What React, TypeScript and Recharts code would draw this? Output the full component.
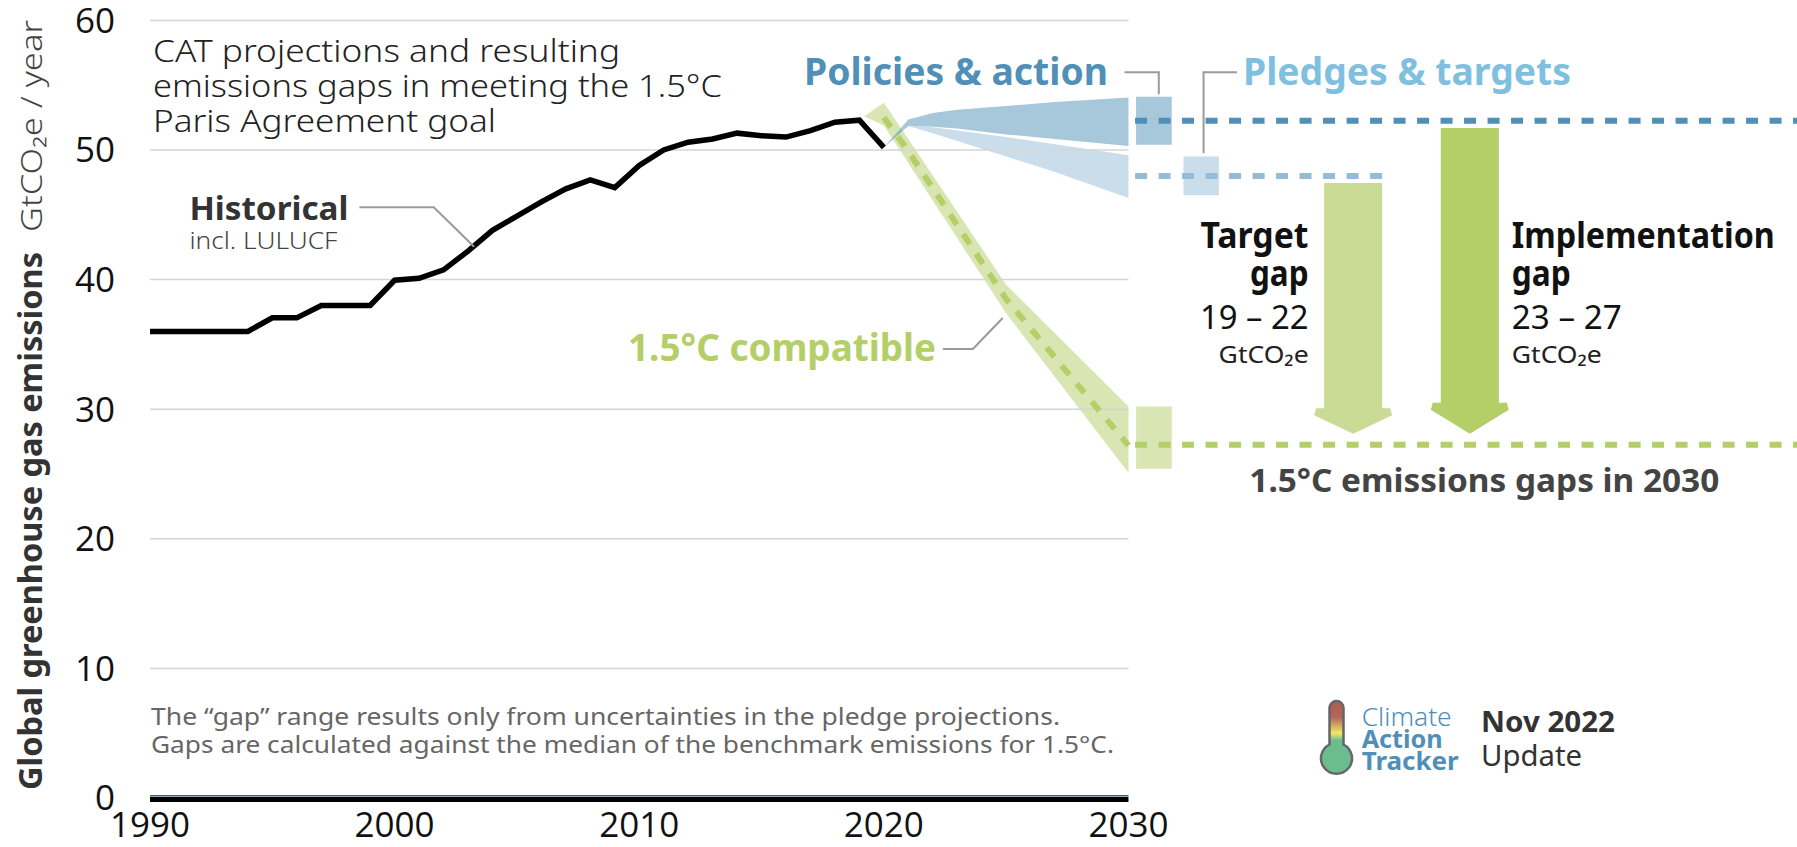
import React from "react";
import { ComposedChart, Line, Area, XAxis, YAxis, ReferenceLine, ReferenceArea } from "recharts";

const historyYears = [1990,1991,1992,1993,1994,1995,1996,1997,1998,1999,2000,2001,2002,2003,2004,2005,2006,2007,2008,2009,2010,2011,2012,2013,2014,2015,2016,2017,2018,2019,2020];
const historyValues = [36,36,36,36,36,37.05,37.05,38,38,38,39.95,40.1,40.75,42.2,43.8,44.9,46,47,47.7,47.1,48.8,50,50.6,50.85,51.3,51.1,51,51.5,52.15,52.3,50.2];

const policyYears = [2020,2021,2022,2023,2025,2027,2030];
const policyLow = [50.2,51.85,51.8,51.65,51.2,50.85,50.3];
const policyHigh = [50.2,52.35,52.85,53.1,53.4,53.7,54.05];

const pledgeYears = [2021,2022,2025,2027,2030];
const pledgeLow = [51.85,51.3,49.5,48.3,46.3];
const pledgeHigh = [51.85,51.75,51.0,50.45,49.6];

const compatYears = [2019.2,2020,2021,2025,2030];
const compatLow = [52.6,51.9,49.0,37.4,25.1];
const compatHigh = [52.6,53.65,50.85,39.6,30.2];
const medianYears = [2020,2021,2025,2030];
const medianValues = [52.5,49.9,38.5,27.2];

const yTicks = [0,10,20,30,40,50,60];
const xTicks = [1990,2000,2010,2020,2030];
const gridValues = [10,20,30,40,50,60];

const BLUE = "#4f8fb8";
const GREEN = "#b4ce68";
const LEADER = "#9a9a9a";
const UI = "'Noto Sans'";

const zip = (xs: number[], ys: number[]) => xs.map((year, i) => ({ year, value: ys[i] }));
const band = (xs: number[], lo: number[], hi: number[]) => xs.map((year, i) => ({ year, range: [lo[i], hi[i]] }));

const ArrowShape = (p: any) => {
  const { x, y, width: w, height: h } = p;
  const inset = w * 0.128;
  const neck = y + h * 0.898;
  const pts = [[x+inset,y],[x+w-inset,y],[x+w-inset,neck],[x+w-2,neck],[x+w,neck+7],[x+w/2,y+h],[x,neck+7],[x+2,neck],[x+inset,neck]];
  return <polygon points={pts.map((q) => q.join(",")).join(" ")} fill={p.fill} />;
};

const T = ({ x, y, w, size, weight = 400, fill = "#222", anchor = "start", children, rotate }: any) => (
  <text x={rotate ? 0 : x} y={rotate ? 0 : y} transform={rotate ? `translate(${x} ${y}) rotate(-90)` : undefined}
    fontFamily={UI} fontSize={size} fontWeight={weight} fill={fill} textAnchor={anchor}
    textLength={w} lengthAdjust="spacingAndGlyphs">{children}</text>
);

const Logo = () => (
  <g>
    <defs>
      <linearGradient id="thermo" x1="0" y1="703" x2="0" y2="775" gradientUnits="userSpaceOnUse">
        <stop offset="0" stopColor="#ae5f50" />
        <stop offset="0.2" stopColor="#b0685a" />
        <stop offset="0.42" stopColor="#f2e868" />
        <stop offset="0.52" stopColor="#6cbd8e" />
        <stop offset="1" stopColor="#6cbd8e" />
      </linearGradient>
    </defs>
    <path d="M1329.5 708a7 7 0 0 1 14 0V744.5a15.5 15.5 0 1 1 -14 0Z" fill="url(#thermo)" stroke="#666" strokeWidth={2.5} />
  </g>
);

const Overlay = () => (
  <svg width={1797} height={847} style={{ position: "absolute", left: 0, top: 0, pointerEvents: "none" }}>
    <T x={42} y={790} w={538} size={33} weight={700} fill="#333" rotate>Global greenhouse gas emissions</T>
    <T x={42} y={232} w={212} size={29} weight={300} fill="#444" rotate>GtCO₂e / year</T>

    <T x={153} y={62} w={467} size={31} weight={300}>CAT projections and resulting</T>
    <T x={153} y={97} w={569} size={31} weight={300}>emissions gaps in meeting the 1.5°C</T>
    <T x={153} y={132} w={343} size={31} weight={300}>Paris Agreement goal</T>

    <T x={189.4} y={220} w={159} size={33} weight={700} fill="#333">Historical</T>
    <T x={189.4} y={249} w={148} size={23} weight={300} fill="#444">incl. LULUCF</T>

    <T x={804} y={85} w={304} size={37} weight={700} fill={BLUE}>Policies &amp; action</T>
    <T x={1243} y={85} w={328} size={37} weight={700} fill="#7fc0e0">Pledges &amp; targets</T>
    <T x={628} y={361} w={308} size={37} weight={700} fill={GREEN}>1.5°C compatible</T>
    <T x={1249.3} y={492} w={470} size={33} weight={700} fill="#444">1.5°C emissions gaps in 2030</T>

    <T x={1200.5} y={248} w={108} size={35} weight={700} fill="#111">Target</T>
    <T x={1250} y={286} w={58.5} size={35} weight={700} fill="#111">gap</T>
    <T x={1200} y={329} w={108.5} size={33} weight={400} fill="#111">19 – 22</T>
    <T x={1218.6} y={363} w={90} size={24} weight={400} fill="#222">GtCO₂e</T>

    <T x={1511.8} y={248} w={263} size={35} weight={700} fill="#111">Implementation</T>
    <T x={1511.8} y={286} w={59} size={35} weight={700} fill="#111">gap</T>
    <T x={1511.8} y={329} w={110} size={33} weight={400} fill="#111">23 – 27</T>
    <T x={1511.8} y={363} w={90} size={24} weight={400} fill="#222">GtCO₂e</T>

    <T x={151} y={725} w={909} size={24} weight={400} fill="#666">The “gap” range results only from uncertainties in the pledge projections.</T>
    <T x={151} y={753} w={963} size={24} weight={400} fill="#666">Gaps are calculated against the median of the benchmark emissions for 1.5°C.</T>

    <Logo />
    <T x={1361.7} y={726} w={90} size={25} weight={300} fill={BLUE}>Climate</T>
    <T x={1361.7} y={748} w={81} size={25} weight={700} fill={BLUE}>Action</T>
    <T x={1361.7} y={770} w={97} size={25} weight={700} fill={BLUE}>Tracker</T>
    <T x={1481} y={732} w={134} size={29} weight={700} fill="#333">Nov 2022</T>
    <T x={1481} y={766} w={101} size={29} weight={400} fill="#333">Update</T>
  </svg>
);

export default function App() {
  return (
    <div style={{ position: "absolute", left: 0, top: 0, width: 1797, height: 847, background: "#fff" }}>
      <ComposedChart width={1797} height={847} margin={{ top: 20.4, right: 0, bottom: 0, left: 0 }}>
        <XAxis type="number" dataKey="year" domain={[1990, 2057.33]} ticks={xTicks} height={49} tickLine={false} axisLine={false}
          tickMargin={8} interval={0} allowDataOverflow tick={{ fontSize: 35, fontFamily: "'Open Sans'", fill: "#111" }} />
        <YAxis type="number" domain={[0, 60]} ticks={yTicks} width={150} tickLine={false} axisLine={false} tickMargin={29}
          interval={0} tick={{ fontSize: 35, fontFamily: "'Open Sans'", fill: "#111" }} />

        {gridValues.map((v) => (
          <ReferenceLine key={v} segment={[{ x: 1990, y: v }, { x: 2030, y: v }]} stroke="#d4d4d4" strokeWidth={1.5} ifOverflow="visible" />
        ))}
        <ReferenceLine segment={[{ x: 1990, y: -0.12 }, { x: 2030, y: -0.12 }]} stroke="#000" strokeWidth={5} ifOverflow="visible" />
        <ReferenceLine segment={[{ x: 1990, y: 0.17 }, { x: 2030, y: 0.17 }]} stroke="#3f5f78" strokeWidth={1.5} ifOverflow="visible" />

        <ReferenceArea x1={2030.31} x2={2031.77} y1={50.4} y2={54.1} fill={BLUE} fillOpacity={0.5} stroke="none" />
        <ReferenceArea x1={2032.25} x2={2033.7} y1={46.5} y2={49.5} fill={BLUE} fillOpacity={0.3} stroke="none" />
        <ReferenceArea x1={2030.31} x2={2031.77} y1={25.4} y2={30.2} fill={GREEN} fillOpacity={0.5} stroke="none" />
        <ReferenceArea x1={2037.59} x2={2040.78} y1={28.1} y2={47.45} fill="#cadb95" stroke="none" shape={ArrowShape} />
        <ReferenceArea x1={2042.36} x2={2045.55} y1={28.1} y2={51.7} fill={GREEN} stroke="none" shape={ArrowShape} />

        <Area data={band(compatYears, compatLow, compatHigh)} dataKey="range" type="linear" fill={GREEN} fillOpacity={0.5} stroke="none" dot={false} activeDot={false} isAnimationActive={false} />
        <Area data={band(policyYears, policyLow, policyHigh)} dataKey="range" type="linear" fill={BLUE} fillOpacity={0.5} stroke="none" dot={false} activeDot={false} isAnimationActive={false} />
        <Area data={band(pledgeYears, pledgeLow, pledgeHigh)} dataKey="range" type="linear" fill={BLUE} fillOpacity={0.3} stroke="none" dot={false} activeDot={false} isAnimationActive={false} />

        <Line data={zip(medianYears, medianValues)} dataKey="value" type="linear" stroke={GREEN} strokeWidth={6} strokeDasharray="12 11.5" dot={false} activeDot={false} isAnimationActive={false} />
        <Line data={zip(historyYears, historyValues)} dataKey="value" type="linear" stroke="#000" strokeWidth={5.5} strokeLinejoin="miter" dot={false} activeDot={false} isAnimationActive={false} />

        <Line data={zip([2030.27, 2057.33], [52.25, 52.25])} dataKey="value" type="linear" stroke={BLUE} strokeWidth={6} strokeDasharray="12 11.5" dot={false} activeDot={false} isAnimationActive={false} />
        <Line data={zip([2030.27, 2040.42], [48, 48])} dataKey="value" type="linear" stroke="#95bcd6" strokeWidth={6} strokeDasharray="12 11.5" dot={false} activeDot={false} isAnimationActive={false} />
        <Line data={zip([2030.27, 2057.33], [27.25, 27.25])} dataKey="value" type="linear" stroke={GREEN} strokeWidth={6} strokeDasharray="12 11.5" dot={false} activeDot={false} isAnimationActive={false} />

        <Line data={zip([1998.56, 2001.6, 2003.25], [45.58, 45.58, 42.53])} dataKey="value" type="linear" stroke={LEADER} strokeWidth={2} dot={false} activeDot={false} isAnimationActive={false} />
        <Line data={zip([2029.84, 2031.24, 2031.24], [56, 56, 54.3])} dataKey="value" type="linear" stroke={LEADER} strokeWidth={2} dot={false} activeDot={false} isAnimationActive={false} />
        <Line data={zip([2034.44, 2033.07, 2033.07], [56, 56, 49.75])} dataKey="value" type="linear" stroke={LEADER} strokeWidth={2} dot={false} activeDot={false} isAnimationActive={false} />
        <Line data={zip([2022.41, 2023.64, 2024.86], [34.65, 34.65, 37.04])} dataKey="value" type="linear" stroke={LEADER} strokeWidth={2} dot={false} activeDot={false} isAnimationActive={false} />
      </ComposedChart>
      <Overlay />
    </div>
  );
}
